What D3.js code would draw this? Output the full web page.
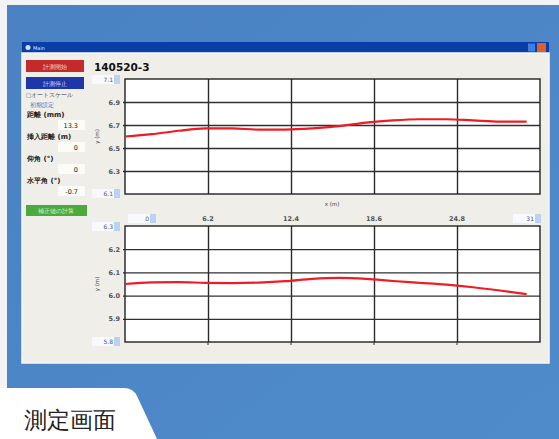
<!DOCTYPE html>
<html>
<head>
<meta charset="utf-8">
<script src="https://cdn.jsdelivr.net/npm/d3@7"></script>
<style>
  body { margin: 0; background: #fff; }
  text { font-family: "DejaVu Sans", sans-serif; }
</style>
</head>
<body>
<div id="screen"></div>
<script>
var svgWidth = 559;
var svgHeight = 439;

// data
var xValues = [0, 2, 4, 6, 8, 10, 12, 14, 16, 18, 20, 22, 24, 26, 28, 30];
var upperValues = [6.60, 6.62, 6.65, 6.67, 6.67, 6.66, 6.66, 6.67, 6.69, 6.72, 6.74, 6.75, 6.75, 6.74, 6.73, 6.73];
var lowerValues = [6.050, 6.057, 6.058, 6.055, 6.054, 6.056, 6.062, 6.072, 6.076, 6.072, 6.063, 6.055, 6.047, 6.036, 6.022, 6.006];
var xTicks = [6.2, 12.4, 18.6, 24.8];
var xLimits = [0, 31];
var upperTicks = [6.3, 6.5, 6.7, 6.9];
var upperLimits = [6.1, 7.1];
var lowerTicks = [5.9, 6.0, 6.1, 6.2];
var lowerLimits = [5.8, 6.3];
var panelLabels = ["距離 (mm)", "挿入距離 (m)", "仰角 (°)", "水平角 (°)"];
var panelValues = ["13.3", "0", "0", "-0.7"];

var svg = d3.select("#screen")
  .append("svg")
  .attr("width", svgWidth)
  .attr("height", svgHeight);

// background (photo of the screen)
svg.append("rect").attr("width", svgWidth).attr("height", svgHeight).attr("fill", "#f3f3f3");
var grad = svg.append("defs").append("linearGradient").attr("id", "bg").attr("x1", 0).attr("y1", 0).attr("x2", 1).attr("y2", 1);
grad.append("stop").attr("offset", "0%").attr("stop-color", "#4a82c3");
grad.append("stop").attr("offset", "100%").attr("stop-color", "#4f8bcb");
svg.append("rect").attr("x", 7).attr("y", 5).attr("width", svgWidth - 7).attr("height", svgHeight - 5).attr("fill", "url(#bg)");

// window
svg.append("rect").attr("x", 22).attr("y", 42).attr("width", 527).attr("height", 11).attr("fill", "#0a3da6");
svg.append("circle").attr("cx", 28).attr("cy", 47.5).attr("r", 2.5).attr("fill", "#cfe0ff");
svg.append("text").attr("x", 33).attr("y", 50).attr("font-size", 5).attr("fill", "#dde8ff").text("Main");
svg.append("rect").attr("x", 528).attr("y", 43.5).attr("width", 7).attr("height", 8).attr("fill", "#3d7ee0");
svg.append("rect").attr("x", 537).attr("y", 43).attr("width", 9).attr("height", 9).attr("fill", "#e0602c");
svg.append("rect").attr("x", 22).attr("y", 53).attr("width", 527).attr("height", 310).attr("fill", "#efeee8")
  .attr("stroke", "#f8f8f4").attr("stroke-width", 1.5);

// left panel
svg.append("rect").attr("x", 26).attr("y", 60).attr("width", 58).attr("height", 12).attr("fill", "#c42a2a");
svg.append("text").attr("x", 55).attr("y", 68.5).attr("text-anchor", "middle").attr("font-size", 6).attr("fill", "#f3d5d5").text("計測開始");
svg.append("rect").attr("x", 26).attr("y", 77).attr("width", 58).attr("height", 12).attr("fill", "#1f36a8");
svg.append("text").attr("x", 55).attr("y", 85.5).attr("text-anchor", "middle").attr("font-size", 6).attr("fill", "#d5dcff").text("計測停止");
svg.append("text").attr("x", 26).attr("y", 97).attr("font-size", 5.5).attr("fill", "#555").text("□オートスケール");
svg.append("text").attr("x", 30).attr("y", 107).attr("font-size", 6).attr("fill", "#3a6fc8").text("初期設定");

panelLabels.forEach(function(label, i) {
  var y0 = 117 + i * 22;
  svg.append("text").attr("x", 27).attr("y", y0).attr("font-size", 7).attr("font-weight", "bold").attr("fill", "#222").text(label);
  svg.append("rect").attr("x", 58).attr("y", y0 + 3).attr("width", 27).attr("height", 10).attr("fill", "#fbfbf8");
  svg.append("text").attr("x", 78).attr("y", y0 + 11).attr("text-anchor", "end").attr("font-size", 6.5).attr("fill", "#222").text(panelValues[i]);
});

svg.append("rect").attr("x", 26).attr("y", 205).attr("width", 61).attr("height", 11).attr("fill", "#4caa3c");
svg.append("text").attr("x", 56).attr("y", 213).attr("text-anchor", "middle").attr("font-size", 5.5).attr("fill", "#d8f5d0").text("補正値の計算");

svg.append("text").attr("x", 94).attr("y", 71).attr("font-size", 10.5).attr("font-weight", "bold").attr("fill", "#111").text("140520-3");

// charts
var left = 125, right = 540;
var xScale = d3.scaleLinear().domain(xLimits).range([left, right]);

function spinBox(x, y, label) {
  svg.append("rect").attr("x", x).attr("y", y).attr("width", 28).attr("height", 9).attr("fill", "#f7f9fc");
  svg.append("rect").attr("x", x + 22).attr("y", y).attr("width", 6).attr("height", 9).attr("fill", "#b9d3f0");
  svg.append("text").attr("x", x + 21).attr("y", y + 7).attr("text-anchor", "end").attr("font-size", 6).attr("fill", "#557").text(label);
}

function drawChart(top, bottom, values, ticks, limits) {
  var yScale = d3.scaleLinear().domain(limits).range([bottom, top]);
  var g = svg.append("g");

  g.append("rect").attr("x", left).attr("y", top).attr("width", right - left).attr("height", bottom - top).attr("fill", "#fff");

  g.append("g")
    .attr("transform", `translate(0, ${bottom})`)
    .call(d3.axisBottom(xScale).tickValues(xTicks).tickSize(-(bottom - top)).tickFormat(""))
    .call(a => a.select(".domain").remove())
    .selectAll("line").attr("stroke", "#2a2a2a").attr("stroke-width", 1.4);

  g.append("g")
    .attr("transform", `translate(${left}, 0)`)
    .call(d3.axisLeft(yScale).tickValues(ticks).tickSize(-(right - left) - 2).tickPadding(5).tickFormat(d3.format(".1f")))
    .call(a => a.select(".domain").remove())
    .call(a => a.selectAll("line").attr("stroke", "#303030").attr("stroke-width", 1.3).attr("transform", "translate(-2,0)"))
    .call(a => a.selectAll("text").attr("font-size", 6.5).attr("fill", "#555").attr("font-weight", "bold"));

  g.append("rect").attr("x", left).attr("y", top).attr("width", right - left).attr("height", bottom - top)
    .attr("fill", "none").attr("stroke", "#222").attr("stroke-width", 1.4);

  var line = d3.line()
    .x((d, i) => xScale(xValues[i]))
    .y(d => yScale(d))
    .curve(d3.curveMonotoneX);

  g.append("path").datum(values).attr("d", line)
    .attr("fill", "none").attr("stroke", "#ee1c24").attr("stroke-width", 2.2);

  spinBox(92, top - 4, d3.format(".1f")(limits[1]));
  spinBox(92, bottom - 5, d3.format(".1f")(limits[0]));

  g.append("text")
    .attr("transform", `translate(99, ${(top + bottom) / 2}) rotate(-90)`)
    .attr("text-anchor", "middle").attr("font-size", 5.5).attr("fill", "#444").text("y (m)");
}

drawChart(79, 194, upperValues, upperTicks, upperLimits);
drawChart(226, 342, lowerValues, lowerTicks, lowerLimits);

// x labels between the charts
svg.append("text").attr("x", 332).attr("y", 206).attr("text-anchor", "middle").attr("font-size", 5.5).attr("fill", "#444").text("x (m)");
svg.selectAll(".xlab").data(xTicks).enter().append("text")
  .attr("x", d => xScale(d)).attr("y", 221).attr("text-anchor", "middle")
  .attr("font-size", 6.5).attr("font-weight", "bold").attr("fill", "#555")
  .text(d => d3.format(".1f")(d));
spinBox(128, 214, d3.format("d")(xLimits[0]));
spinBox(513, 214, d3.format("d")(xLimits[1]));

// small ticks under lower chart
svg.selectAll(".btick").data(xTicks).enter().append("line")
  .attr("x1", d => xScale(d)).attr("x2", d => xScale(d)).attr("y1", 342).attr("y2", 345)
  .attr("stroke", "#333");

// caption tab
svg.append("path").attr("d", "M0,388 L124,388 Q133,388 137,396 L157,439 L0,439 Z").attr("fill", "#fff");
svg.append("text").attr("x", 24).attr("y", 428).attr("font-size", 23)
  .attr("font-family", "Noto Sans CJK JP").attr("fill", "#222").text("測定画面");
</script>
</body>
</html>
